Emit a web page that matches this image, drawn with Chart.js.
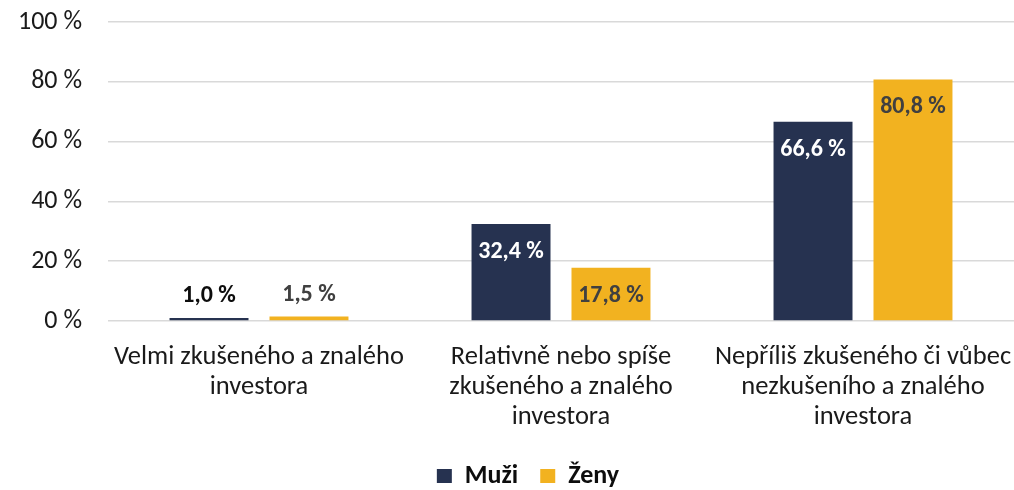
<!DOCTYPE html>
<html>
<head>
<meta charset="utf-8">
<script src="https://cdn.jsdelivr.net/npm/chart.js@4/dist/chart.umd.min.js"></script>
<style>
  html, body { margin: 0; padding: 0; background: #fff; }
  #wrap { width: 1014px; height: 490px; position: relative; }
</style>
</head>
<body>
<div id="wrap"><canvas id="c"></canvas></div>
<script>
const categories = [
    ['Velmi zkušeného a znalého', 'investora'],
    ['Relativně nebo spíše', 'zkušeného a znalého', 'investora'],
    ['Nepříliš zkušeného či vůbec', 'nezkušeního a znalého', 'investora'],
];
const muzi = [1.0, 32.4, 66.6];
const zeny = [1.5, 17.8, 80.8];
const yTicks = [0, 20, 40, 60, 80, 100];

const FONT = "Carlito, Calibri, Lato, 'Open Sans', sans-serif";
const NAVY = '#263250';
const GOLD = '#F2B220';

const fmt = v => v.toFixed(1).replace('.', ',') + ' %';

// labels: inside end for tall bars, above for tiny ones
const barLabels = {
    id: 'barLabels',
    afterLayout(chart) {
        // legend sits a bit right of centre in the original
        chart.legend.left += 21;
        chart.legend.right += 21;
    },
    afterDatasetsDraw(chart) {
        const ctx = chart.ctx;
        ctx.save();
        ctx.font = 'bold 24px ' + FONT;
        ctx.textAlign = 'center';
        ctx.textBaseline = 'middle';
        chart.data.datasets.forEach((ds, di) => {
            const meta = chart.getDatasetMeta(di);
            meta.data.forEach((bar, i) => {
                const v = ds.data[i];
                const h = bar.base - bar.y;
                let y, color;
                if (h < 40) {
                    y = bar.y - 22;
                    color = di === 0 ? '#0d0d0d' : '#404040';
                } else {
                    y = bar.y + 28;
                    color = di === 0 ? '#ffffff' : '#404040';
                }
                ctx.fillStyle = color;
                ctx.fillText(fmt(v), bar.x, y);
            });
        });
        ctx.restore();
    }
};

new Chart(document.getElementById('c'), {
    type: 'bar',
    data: {
        labels: categories,
        datasets: [
            { label: 'Muži', data: muzi, backgroundColor: NAVY, categoryPercentage: 0.662, barPercentage: 0.79 },
            { label: 'Ženy', data: zeny, backgroundColor: GOLD, categoryPercentage: 0.662, barPercentage: 0.79 },
        ]
    },
    options: {
        responsive: true,
        maintainAspectRatio: false,
        animation: false,
        layout: { padding: { top: 22, right: 0, bottom: -9, left: 0 } },
        scales: {
            x: {
                grid: { display: false },
                border: { display: false },
                ticks: {
                    color: '#1a1a1a',
                    font: { family: FONT, size: 26.5, lineHeight: 1.14 },
                    padding: 13,
                    maxRotation: 0,
                    autoSkip: false,
                },
                afterFit(scale) {
                    scale.height = 120;
                    scale.paddingLeft = 0;
                    scale.paddingRight = 0;
                },
            },
            y: {
                min: 0,
                max: 100,
                afterBuildTicks(scale) { scale.ticks = yTicks.map(v => ({ value: v })); },
                grid: { color: '#d9d9d9', lineWidth: 1.5, drawTicks: false },
                border: { display: false },
                ticks: {
                    color: '#1a1a1a',
                    font: { family: FONT, size: 26 },
                    padding: 26,
                    callback: v => v + ' %',
                },
                afterFit(scale) {
                    scale.width = 108;
                    scale.paddingTop = 0;
                    scale.paddingBottom = 0;
                },
            }
        },
        plugins: {
            legend: {
                position: 'bottom',
                labels: {
                    boxWidth: 15,
                    boxHeight: 14,
                    padding: 22,
                    color: '#0d0d0d',
                    font: { family: FONT, size: 26, weight: 'bold' },
                },
            },
            tooltip: { enabled: false },
        },
    },
    plugins: [barLabels],
});
</script>
</body>
</html>
